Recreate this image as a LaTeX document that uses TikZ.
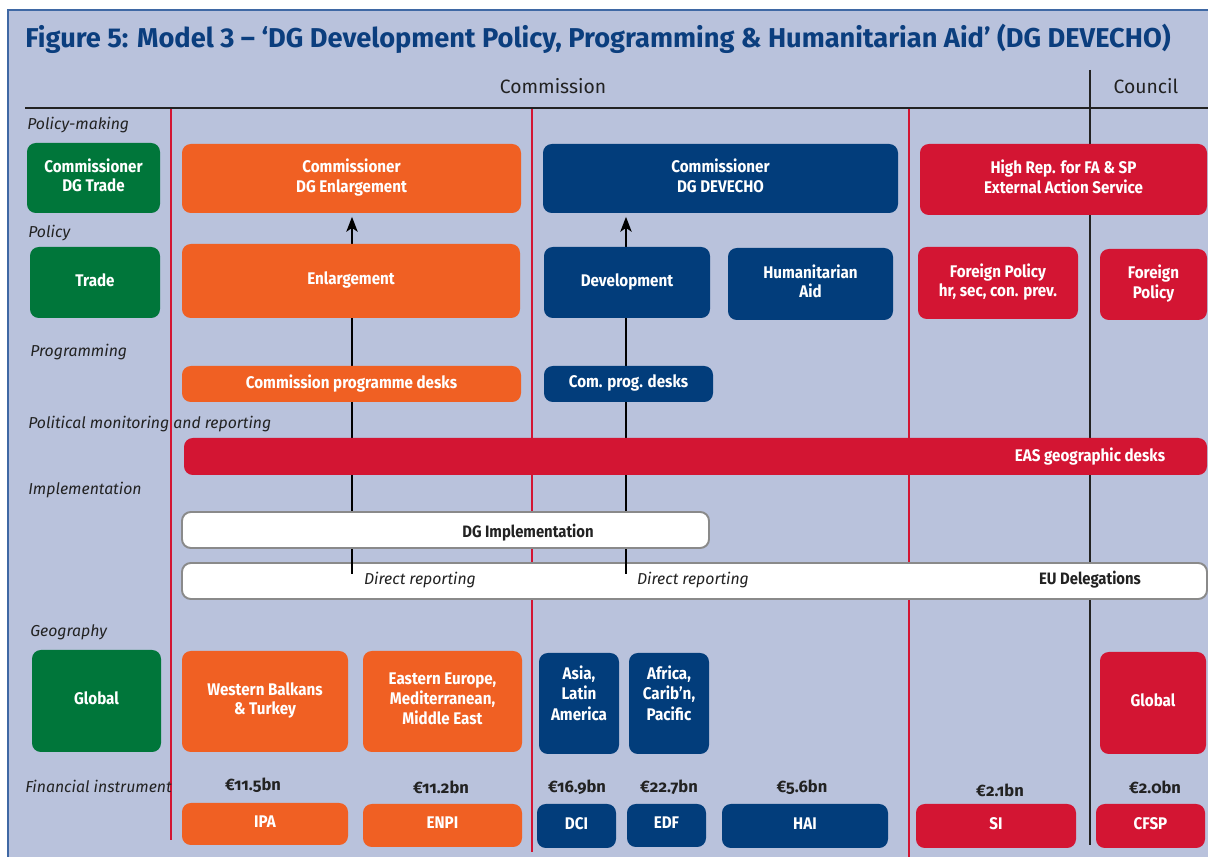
\documentclass[tikz,border=0pt]{standalone}
\usepackage{fontspec}
\setmainfont{Fira Sans}
\newfontfamily\narrowfont{Fira Sans}[FakeStretch=0.9]
\newfontfamily\oldnum{Fira Sans}[Numbers=OldStyle]
\usetikzlibrary{arrows.meta}
\definecolor{panel}{HTML}{B9C2DC}
\definecolor{panelline}{HTML}{3F68A4}
\definecolor{titleblue}{HTML}{0B3E7E}
\definecolor{eorange}{HTML}{F06023}
\definecolor{eblue}{HTML}{023D7B}
\definecolor{ered}{HTML}{D31533}
\definecolor{egreen}{HTML}{00763A}
\definecolor{boxgray}{HTML}{8A8A8A}
\definecolor{textdark}{HTML}{222222}
\newcommand\titlefont{\fontsize{15.5}{18}\selectfont\bfseries}
\newcommand\headfont{\fontsize{11}{13}\selectfont}
\newcommand\boxfont{\narrowfont\fontsize{9.6}{11.2}\selectfont\bfseries}
\newcommand\darkfont{\narrowfont\fontsize{9.4}{11}\selectfont\bfseries}
\newcommand\labfont{\fontsize{9}{11}\selectfont\itshape}
\newcommand\amtfont{\oldnum\fontsize{9.4}{11}\selectfont\bfseries}
% box from corner to corner, in picture pixels
\def\blk[#1](#2)(#3,#4)(#5,#6)#7{\node[#1, minimum width={(#5-#3)*0.02cm}, minimum height={(#6-#4)*0.02cm}] (#2) at ({(#3+#5)/2},{(#4+#6)/2}) {#7};}
\tikzset{
  ebox/.style={rounded corners=5pt, text=white, font=\boxfont, align=center, inner sep=0pt, outer sep=0pt, text depth=3.2pt},
  orangebox/.style={ebox, fill=eorange},
  bluebox/.style={ebox, fill=eblue},
  redbox/.style={ebox, fill=ered},
  greenbox/.style={ebox, fill=egreen},
  whitebox/.style={ebox, fill=white, draw=boxgray, line width=1.1pt, text=textdark},
  rowlabel/.style={anchor=west, font=\labfont, text=textdark, inner sep=0pt},
  amount/.style={font=\amtfont, text=textdark, inner sep=0pt},
  darktext/.style={font=\darkfont, text=textdark, inner sep=0pt},
  divider/.style={draw=ered, line width=0.9pt},
  uparrow/.style={draw=black, line width=0.8pt, shorten >=2.2pt, -{Stealth[length=8.5pt,width=6.5pt,inset=2.2pt]}}
}

\begin{document}
\begin{tikzpicture}[x=0.02cm,y=-0.02cm]
			%%%%% START %%%%%
			\useasboundingbox (0,0) rectangle (1208,857);
			\fill[white] (0,0) rectangle (1208,857);
			\fill[panel] (8,10) rectangle (1208,857);
			\draw[panelline, line width=0.7pt] (8,857) -- (8,10) -- (1208,10);
			
			\node[anchor=base west, font=\titlefont, text=titleblue, inner sep=0pt] (title) at (25,48) {Figure 5: Model 3 – ‘DG Development Policy, Programming \& Humanitarian Aid’ (DG DEVECHO)};
			\node[anchor=base, font=\headfont, text=textdark, inner sep=0pt] (comm) at (553,94) {Commission};
			\node[anchor=base, font=\headfont, text=textdark, inner sep=0pt] (coun) at (1146,94) {Council};
			
			% dividers
			\draw[divider] (171,108) -- (171,840);
			\draw[divider] (532,108) -- (532,852);
			\draw[divider] (909,108) -- (909,857);
			\draw[textdark, line width=1.2pt] (25,108) -- (1208,108);
			\draw[textdark, line width=1.2pt] (1090,70) -- (1090,845);
			
			% row labels
			\node[rowlabel] (lpm) at (27,125) {Policy-making};
			\node[rowlabel] (lpol) at (28,233) {Policy};
			\node[rowlabel] (lprog) at (30,352) {Programming};
			\node[rowlabel] (lmon) at (28,424) {Political monitoring and reporting};
			\node[rowlabel] (limp) at (28,490) {Implementation};
			\node[rowlabel] (lgeo) at (30,632) {Geography};
			\node[rowlabel] (lfin) at (25,786) {Financial instrument};
			
			% delegations bar, reporting lines run into it
			\blk[whitebox](eud)(182,563)(1207,599){}
			\node[rowlabel, anchor=center] (drep1) at (420,580) {Direct reporting};
			\node[rowlabel, anchor=center] (drep2) at (693,580) {Direct reporting};
			\node[darktext] (eudl) at (1090,580) {EU Delegations};
			
			% policy-making
			\blk[greenbox](cdgt)(27,143)(160,213){Commissioner\\DG Trade}
			\blk[orangebox](cenl)(182,144)(521,213){Commissioner\\DG Enlargement}
			\blk[bluebox](cdev)(543,144)(898,213){Commissioner\\DG DEVECHO}
			\blk[redbox](hrep)(920,144)(1207,215){High Rep. for FA \& SP\\External Action Service}
			
			\coordinate (dr1) at (352,574);
			\coordinate (dr2) at (626,574);
			\draw[uparrow] (dr1) -- (dr1 |- cenl.south);
			\draw[uparrow] (dr2) -- (dr2 |- cdev.south);
			
			% policy
			\blk[greenbox](trade)(30,247)(160,318){Trade}
			\blk[orangebox](enl)(182,244)(520,318){Enlargement}
			\blk[bluebox](dev)(544,247)(710,318){Development}
			\blk[bluebox](hum)(728,248)(893,320){Humanitarian\\Aid}
			\blk[redbox](fpol)(918,247)(1078,319){Foreign Policy\\hr, sec, con. prev.}
			\blk[redbox](fpolc)(1100,249)(1207,320){Foreign\\Policy}
			
			% programming
			\blk[orangebox](cpd)(182,366)(521,402){Commission programme desks}
			\blk[bluebox](cpdb)(544,366)(713,402){Com. prog. desks}
			
			% monitoring
			\blk[redbox](eas)(184,438)(1207,475){}
			\node[ebox] (easl) at (1090,457) {EAS geographic desks};
			
			% implementation
			\blk[whitebox](dgi)(182,512)(709,548){}
			\node[darktext] (dgil) at (528,533) {DG Implementation};
			
			% geography
			\blk[greenbox](glob)(32,650)(161,752){Global}
			\blk[orangebox](wbt)(182,651)(348,752){Western Balkans\\\& Turkey}
			\blk[orangebox](eem)(363,651)(522,752){Eastern Europe,\\Mediterranean,\\Middle East}
			\blk[bluebox, text depth=12pt, execute at begin node=\setlength{\baselineskip}{11.8pt}](asl)(539,653)(619,754){Asia,\\Latin\\America}
			\blk[bluebox, text depth=12pt, execute at begin node=\setlength{\baselineskip}{11.8pt}](acp)(629,653)(709,754){Africa,\\Carib’n,\\Pacific}
			\blk[redbox](globc)(1100,652)(1206,754){Global}
			
			% financial instruments
			\blk[orangebox](ipa)(182,803)(348,845){IPA}
			\blk[orangebox](enpi)(363,804)(522,847){ENPI}
			\blk[bluebox](dci)(537,804)(616,848){DCI}
			\blk[bluebox](edf)(627,804)(706,847){EDF}
			\blk[bluebox](hai)(722,804)(888,848){HAI}
			\blk[redbox](si)(916,804)(1076,848){SI}
			\blk[redbox](cfsp)(1096,804)(1205,848){CFSP}
			\node[amount] (aipa) at (253,785) {€11.5bn};
			\node[amount] (aenpi) at (441,787) {€11.2bn};
			\node[amount] (adci) at (577,787) {€16.9bn};
			\node[amount] (aedf) at (669,787) {€22.7bn};
			\node[amount] (ahai) at (802,787) {€5.6bn};
			\node[amount] (asi) at (1000,790) {€2.1bn};
			\node[amount] (acfsp) at (1155,787) {€2.0bn};
			%%%%% END %%%%%
\end{tikzpicture}
\end{document}
